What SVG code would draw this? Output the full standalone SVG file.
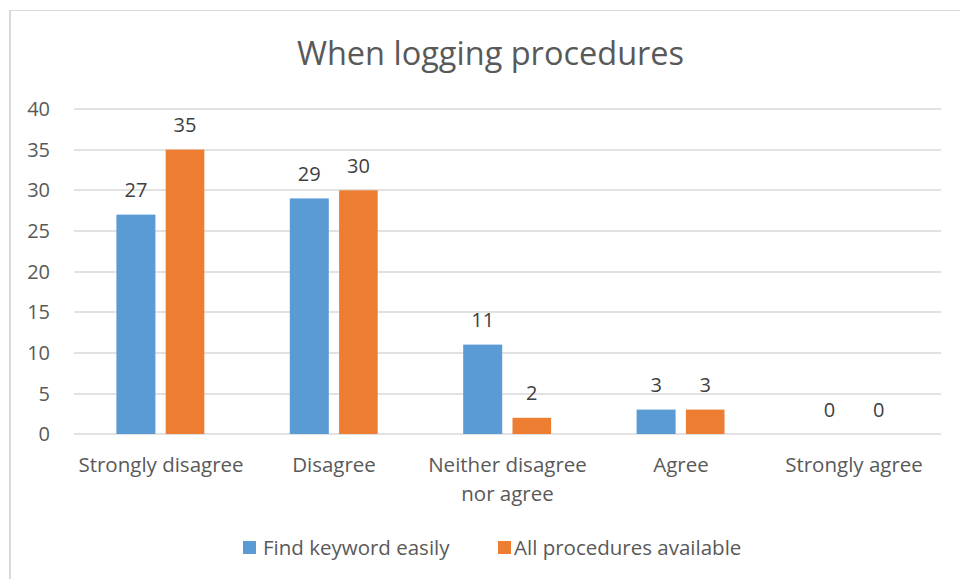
<svg xmlns="http://www.w3.org/2000/svg" width="960" height="579" viewBox="0 0 960 579">
<style>
.t{font-family:"Open Sans","Liberation Sans",sans-serif;fill:#595959}
.tick{font-size:20px;text-anchor:end}
.cat{font-size:20.5px;text-anchor:middle}
.val{font-size:20px;text-anchor:middle;fill:#404040}
.leg{font-size:20.5px}
.grid{stroke:#d9d9d9;stroke-width:1.5}
.b{fill:#5b9bd5}
.o{fill:#ed7d31}
</style>
<rect x="0" y="0" width="960" height="579" fill="#ffffff"/>
<g id="frame">
<line x1="10" y1="10.5" x2="960" y2="10.5" stroke="#d9d9d9" stroke-width="1"/>
<line x1="10" y1="10" x2="10" y2="579" stroke="#d9d9d9" stroke-width="2"/>
</g>
<g id="title"><text class="t" x="490.5" y="65" font-size="32.5" text-anchor="middle">When logging procedures</text></g>
<g id="grid">
<line class="grid" x1="74" y1="109" x2="941" y2="109"/>
<line class="grid" x1="74" y1="150" x2="941" y2="150"/>
<line class="grid" x1="74" y1="190" x2="941" y2="190"/>
<line class="grid" x1="74" y1="231" x2="941" y2="231"/>
<line class="grid" x1="74" y1="272" x2="941" y2="272"/>
<line class="grid" x1="74" y1="312" x2="941" y2="312"/>
<line class="grid" x1="74" y1="353" x2="941" y2="353"/>
<line class="grid" x1="74" y1="394" x2="941" y2="394"/>
<line class="grid" x1="74" y1="434" x2="941" y2="434"/>
</g>
<g id="yaxis">
<text class="t tick" x="50" y="116">40</text>
<text class="t tick" x="50" y="157">35</text>
<text class="t tick" x="50" y="197">30</text>
<text class="t tick" x="50" y="238">25</text>
<text class="t tick" x="50" y="279">20</text>
<text class="t tick" x="50" y="319">15</text>
<text class="t tick" x="50" y="360">10</text>
<text class="t tick" x="50" y="401">5</text>
<text class="t tick" x="50" y="441">0</text>
</g>
<g id="bars">
<rect class="b" x="116.4" y="214.6" width="39" height="219.4"/>
<rect class="o" x="165.7" y="149.6" width="38.6" height="284.4"/>
<rect class="b" x="289.8" y="198.4" width="39" height="235.6"/>
<rect class="o" x="339.1" y="190.3" width="38.6" height="243.7"/>
<rect class="b" x="463.2" y="344.6" width="39" height="89.4"/>
<rect class="o" x="512.5" y="417.8" width="38.6" height="16.2"/>
<rect class="b" x="636.6" y="409.6" width="39" height="24.4"/>
<rect class="o" x="685.9" y="409.6" width="38.6" height="24.4"/>
</g>
<g id="values">
<text class="t val" x="135.9" y="197">27</text>
<text class="t val" x="185" y="132">35</text>
<text class="t val" x="309.3" y="181">29</text>
<text class="t val" x="358.4" y="173">30</text>
<text class="t val" x="482.7" y="327">11</text>
<text class="t val" x="531.8" y="400">2</text>
<text class="t val" x="656.1" y="392">3</text>
<text class="t val" x="705.2" y="392">3</text>
<text class="t val" x="829.5" y="417">0</text>
<text class="t val" x="878.6" y="417">0</text>
</g>
<g id="categories">
<text class="t cat" x="161" y="472">Strongly disagree</text>
<text class="t cat" x="334" y="472">Disagree</text>
<text class="t cat" x="507.5" y="472">Neither disagree</text>
<text class="t cat" x="507.5" y="501">nor agree</text>
<text class="t cat" x="681" y="472">Agree</text>
<text class="t cat" x="854" y="472">Strongly agree</text>
</g>
<g id="legend">
<rect class="b" x="243" y="541" width="13" height="13"/>
<text class="t leg" x="263" y="555">Find keyword easily</text>
<rect class="o" x="498" y="541" width="13" height="13"/>
<text class="t leg" x="514" y="555">All procedures available</text>
</g>
</svg>
